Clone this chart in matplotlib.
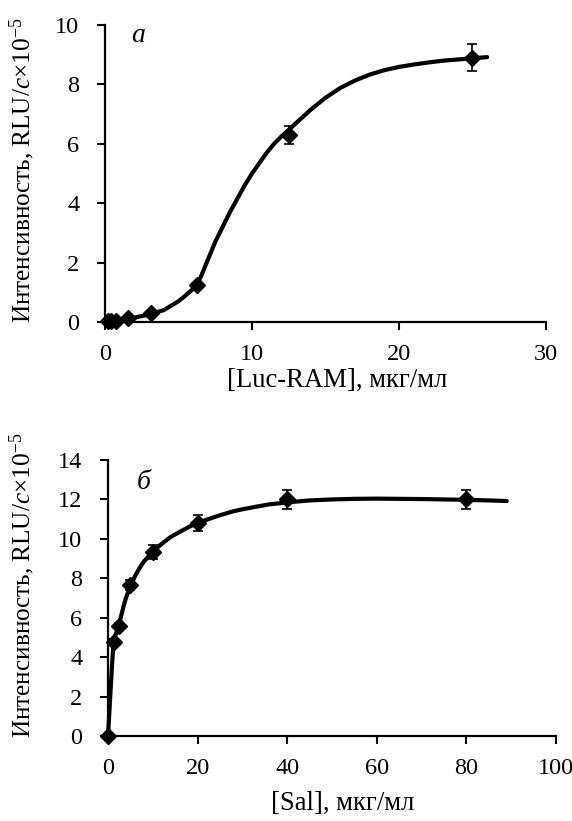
import matplotlib
matplotlib.use("Agg")
import matplotlib.pyplot as plt

plt.rcParams['font.family'] = ['Liberation Serif', 'DejaVu Serif']
plt.rcParams['mathtext.fontset'] = 'custom'
plt.rcParams['mathtext.rm'] = 'Liberation Serif'
plt.rcParams['mathtext.it'] = 'Liberation Serif:italic'

# panel a: Luc-RAM
luc_x = [0.2, 0.39, 0.78, 1.56, 3.125, 6.25, 12.5, 25]
luc_y = [0.02, 0.03, 0.05, 0.12, 0.3, 1.25, 6.3, 8.9]
luc_err = [0, 0, 0, 0, 0, 0, 0.3, 0.45]
# fitted curve
luc_fit_x = [0.2, 1, 2, 3, 4, 5, 5.5, 6, 6.5, 7, 7.5, 8, 8.5, 9, 9.5, 10, 10.5, 11, 11.5,
             12, 12.5, 13, 14, 15, 16, 17, 18, 19, 20, 21, 22, 23, 24, 25, 26]
luc_fit_y = [0.02, 0.08, 0.15, 0.25, 0.4, 0.7, 0.9, 1.12, 1.5, 2.1, 2.7, 3.2, 3.7, 4.15, 4.6,
             5.0, 5.35, 5.7, 6.0, 6.25, 6.47, 6.7, 7.15, 7.55, 7.88, 8.13, 8.33, 8.48, 8.59,
             8.67, 8.74, 8.8, 8.84, 8.88, 8.92]

# panel b: Sal
sal_x = [0, 1.25, 2.5, 5, 10, 20, 40, 80]
sal_y = [0, 4.75, 5.6, 7.65, 9.35, 10.8, 12.0, 12.0]
sal_err = [0, 0.15, 0.15, 0.25, 0.35, 0.4, 0.48, 0.48]
sal_fit_x = [0, 0.3, 0.6, 0.9, 1.25, 1.6, 2, 2.5, 3, 3.5, 4, 5, 6, 7, 8, 9, 10, 12, 14, 16,
             18, 20, 22, 25, 28, 30, 33, 36, 40, 45, 50, 55, 60, 65, 70, 75, 80, 85, 89]
sal_fit_y = [0, 1.2, 2.4, 3.6, 4.75, 5.05, 5.35, 5.7, 6.15, 6.6, 7.0, 7.6, 8.1, 8.5, 8.85,
             9.1, 9.35, 9.75, 10.1, 10.35, 10.6, 10.8, 10.97, 11.2, 11.4, 11.5, 11.63, 11.75,
             11.85, 11.95, 12.0, 12.03, 12.04, 12.03, 12.02, 12.0, 11.98, 11.95, 11.92]

ylabel = r'Интенсивность, RLU/$c$$\times$10$^{-5}$'

fig = plt.figure(figsize=(5.72, 8.21), dpi=100)
ax1 = fig.add_axes([0.1836, 0.6078, 0.7709, 0.3617])
ax2 = fig.add_axes([0.1888, 0.1035, 0.7832, 0.3362])


def style(ax):
    for s in ['top', 'right']:
        ax.spines[s].set_visible(False)
    for s in ['left', 'bottom']:
        ax.spines[s].set_linewidth(1.6)
        ax.spines[s].set_clip_on(False)
    ax.tick_params(direction='out', length=5.5, width=1.5, labelsize=17.5)
    ax.tick_params(axis='x', pad=10.5)
    ax.tick_params(axis='y', pad=13)
    for art in ax.lines:
        art.set_clip_on(False)


ax1.plot(luc_fit_x, luc_fit_y, color='black', lw=3, solid_capstyle='round', zorder=2)
ax1.errorbar(luc_x, luc_y, yerr=luc_err, fmt='D', color='black', ms=8.5,
             ecolor='black', elinewidth=1.2, capsize=3.5, capthick=1.2, zorder=3)
ax1.set_xlim(0, 30)
ax1.set_ylim(0, 10)
ax1.set_xticks([0, 10, 20, 30])
ax1.set_yticks([0, 2, 4, 6, 8, 10])
ax1.set_xlabel('[Luc-RAM], мкг/мл', fontsize=19.2)
ax1.set_ylabel(ylabel, fontsize=18.2)
ax1.xaxis.set_label_coords(0.526, -0.155)
ax1.yaxis.set_label_coords(-0.155, 0.51)
ax1.text(2.25, 9.65, 'а', fontsize=20, style='italic', ha='center', va='center')
style(ax1)

ax2.plot(sal_fit_x, sal_fit_y, color='black', lw=3, solid_capstyle='round', zorder=2)
ax2.errorbar(sal_x, sal_y, yerr=sal_err, fmt='D', color='black', ms=8.5,
             ecolor='black', elinewidth=1.2, capsize=3.5, capthick=1.2, zorder=3)
ax2.set_xlim(0, 100)
ax2.set_ylim(0, 14)
ax2.set_xticks([0, 20, 40, 60, 80, 100])
ax2.set_yticks([0, 2, 4, 6, 8, 10, 12, 14])
ax2.set_xlabel('[Sal], мкг/мл', fontsize=19.2)
ax2.set_ylabel(ylabel, fontsize=18.2)
ax2.xaxis.set_label_coords(0.523, -0.2)
ax2.yaxis.set_label_coords(-0.158, 0.547)
ax2.text(8, 12.85, 'б', fontsize=20, style='italic', ha='center', va='center')
style(ax2)

fig.savefig('out.png', dpi=100)
